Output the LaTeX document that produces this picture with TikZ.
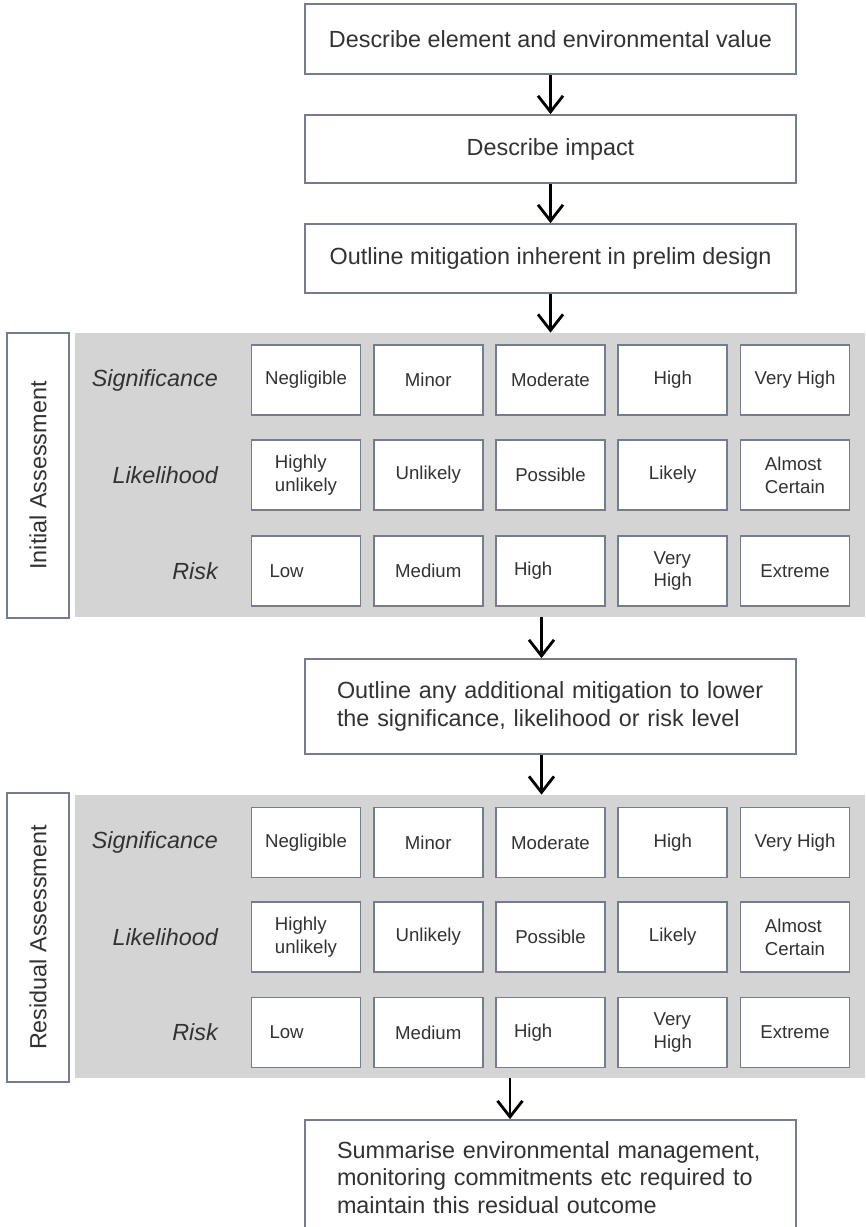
\documentclass[tikz,border=0pt]{standalone}
\usepackage{fontspec}
\setmainfont{Liberation Sans}
\usepackage{tikz}
\usetikzlibrary{shapes, arrows.meta, positioning}

\definecolor{panelgray}{RGB}{212,212,212}
\definecolor{boxline}{RGB}{118,124,143}
\definecolor{inkgray}{RGB}{50,50,50}

\newcommand{\mainsize}{\fontsize{13.3}{15.8}\selectfont}
\newcommand{\cellsize}{\fontsize{10.6}{13}\selectfont}

\tikzstyle{flow}   = [line width=1.6pt, -{Straight Barb[length=3.2mm, width=5mm]}]
\tikzstyle{box}    = [draw=boxline, line width=1pt, fill=white, minimum width=98.2mm, font=\mainsize, text=inkgray]
\tikzstyle{wide}   = [box, text width=85.4mm, inner xsep=6.4mm, align=left]
\tikzstyle{panel}  = [fill=panelgray, minimum width=158mm, inner sep=0pt]
\tikzstyle{side}   = [draw=boxline, line width=1pt, fill=white, rotate=90, minimum height=12.4mm, font=\mainsize, text=inkgray]
\tikzstyle{rowlab} = [anchor=east, font=\mainsize\itshape, text=inkgray]
\tikzstyle{cell}   = [draw=boxline, line width=1pt, fill=white, minimum width=21.8mm, minimum height=14mm, align=left, font=\cellsize, text=inkgray, inner xsep=1mm]
\tikzstyle{cellL}  = [cell, text width=14.6mm, inner xsep=3.6mm]

\begin{document}
\begin{tikzpicture}[x=0.2mm, y=-0.2mm]

\useasboundingbox (0,0) rectangle (865,1227);

% steps
\node [box, minimum height=14mm]   at (550.5,   39  ) (b1) {Describe element and environmental value};
\node [box, minimum height=13.6mm] at (550.5,  149  ) (b2) {Describe impact};
\node [box, minimum height=13.8mm] at (550.5,  258.5) (b3) {Outline mitigation inherent in prelim design};
\node [wide, minimum height=19mm]  at (550.5,  706.5) (b4) {Outline any additional mitigation to lower\\the significance, likelihood or risk level};
\node [wide, minimum height=23mm]  at (550.5, 1177.5) (b5) {Summarise environmental management,\\monitoring commitments etc required to\\maintain this residual outcome};

% initial assessment
\node [panel, minimum height=56.8mm] at (470, 475  ) (panelA) {};
\node [side, minimum width=57mm]     at ( 38, 475.5) (sideA)  {Initial Assessment};

\node [rowlab] at (224, 380) (sigA)  {Significance};
\node [rowlab] at (224, 475) (likA)  {Likelihood};
\node [rowlab] at (224, 571) (riskA) {Risk};

\node [cell]  at (306,    380) (a11) {Negligible};
\node [cell]  at (428.25, 380) (a12) {Minor};
\node [cell]  at (550.5,  380) (a13) {Moderate};
\node [cell]  at (672.75, 380) (a14) {High};
\node [cell]  at (795,    380) (a15) {Very High};

\node [cell]  at (306,    475) (a21) {Highly\\unlikely};
\node [cell]  at (428.25, 475) (a22) {Unlikely};
\node [cell]  at (550.5,  475) (a23) {Possible};
\node [cell]  at (672.75, 475) (a24) {Likely};
\node [cell]  at (795,    475) (a25) {Almost\\Certain};

\node [cellL] at (306,    571) (a31) {Low};
\node [cell]  at (428.25, 571) (a32) {Medium};
\node [cellL] at (550.5,  571) (a33) {High};
\node [cell]  at (672.75, 571) (a34) {Very\\High};
\node [cell]  at (795,    571) (a35) {Extreme};

% residual assessment
\node [panel, minimum height=56.6mm] at (470, 936.5) (panelB) {};
\node [side, minimum width=57.8mm]   at ( 38, 937.5) (sideB)  {Residual Assessment};

\node [rowlab] at (224,  842.5) (sigB)  {Significance};
\node [rowlab] at (224,  937  ) (likB)  {Likelihood};
\node [rowlab] at (224, 1032.5) (riskB) {Risk};

\node [cell]  at (306,     842.5) (r11) {Negligible};
\node [cell]  at (428.25,  842.5) (r12) {Minor};
\node [cell]  at (550.5,   842.5) (r13) {Moderate};
\node [cell]  at (672.75,  842.5) (r14) {High};
\node [cell]  at (795,     842.5) (r15) {Very High};

\node [cell]  at (306,     937  ) (r21) {Highly\\unlikely};
\node [cell]  at (428.25,  937  ) (r22) {Unlikely};
\node [cell]  at (550.5,   937  ) (r23) {Possible};
\node [cell]  at (672.75,  937  ) (r24) {Likely};
\node [cell]  at (795,     937  ) (r25) {Almost\\Certain};

\node [cellL] at (306,    1032.5) (r31) {Low};
\node [cell]  at (428.25, 1032.5) (r32) {Medium};
\node [cellL] at (550.5,  1032.5) (r33) {High};
\node [cell]  at (672.75, 1032.5) (r34) {Very\\High};
\node [cell]  at (795,    1032.5) (r35) {Extreme};

% arrow ends
\coordinate [xshift=-1.8mm] (t4) at (b4.north);
\coordinate [xshift=-1.8mm] (s4) at (b4.south);
\coordinate [xshift=-8.1mm] (t5) at (b5.north);

% edges
\path [flow]
  (b1)        edge (b2)
  (b2)        edge (b3)
  (b3.south)  edge (b3.south |- panelA.north)
  (t4 |- panelA.south) edge (t4)
  (s4)        edge (s4 |- panelB.north)
  (t5 |- panelB.south) edge (t5);

\end{tikzpicture}
\end{document}
